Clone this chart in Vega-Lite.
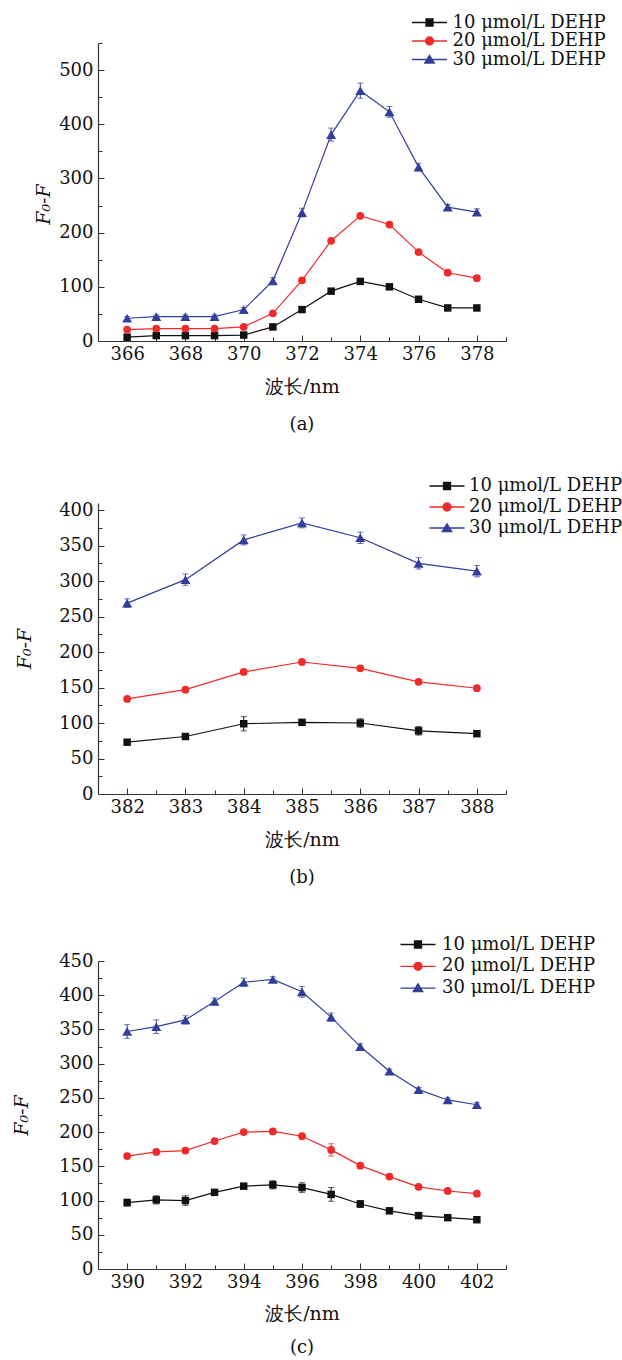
{
"$schema": "https://vega.github.io/schema/vega-lite/v6.json",
"autosize": {"type": "pad"},
"padding": {"left": 12, "top": 13, "right": 0, "bottom": 0},
"background": "white",
"config": {
  "view": {"stroke": null},
  "axis": {"grid": false, "labelFont": "DejaVu Serif", "labelFontSize": 18, "labelColor": "#111111", "titleFont": "DejaVu Serif", "titleFontSize": 19, "titleFontWeight": "normal", "titleColor": "#111111", "domainColor": "#333333", "domainWidth": 1.2, "tickColor": "#333333", "tickWidth": 1, "labelFlush": false, "labelOverlap": false}
},
"data": {"values": [
{"p":"a","s":"10 μmol/L DEHP","x":366,"y":7,"e":2},{"p":"a","s":"10 μmol/L DEHP","x":367,"y":10,"e":2},{"p":"a","s":"10 μmol/L DEHP","x":368,"y":10,"e":2},{"p":"a","s":"10 μmol/L DEHP","x":369,"y":10,"e":2},{"p":"a","s":"10 μmol/L DEHP","x":370,"y":11,"e":2},{"p":"a","s":"10 μmol/L DEHP","x":371,"y":26,"e":2},{"p":"a","s":"10 μmol/L DEHP","x":372,"y":58,"e":2},{"p":"a","s":"10 μmol/L DEHP","x":373,"y":92,"e":2},{"p":"a","s":"10 μmol/L DEHP","x":374,"y":110,"e":2},{"p":"a","s":"10 μmol/L DEHP","x":375,"y":100,"e":2},{"p":"a","s":"10 μmol/L DEHP","x":376,"y":77,"e":2},{"p":"a","s":"10 μmol/L DEHP","x":377,"y":61,"e":2},{"p":"a","s":"10 μmol/L DEHP","x":378,"y":61,"e":2},
{"p":"a","s":"20 μmol/L DEHP","x":366,"y":21,"e":2},{"p":"a","s":"20 μmol/L DEHP","x":367,"y":23,"e":2},{"p":"a","s":"20 μmol/L DEHP","x":368,"y":23,"e":2},{"p":"a","s":"20 μmol/L DEHP","x":369,"y":23,"e":2},{"p":"a","s":"20 μmol/L DEHP","x":370,"y":26,"e":2},{"p":"a","s":"20 μmol/L DEHP","x":371,"y":51,"e":2},{"p":"a","s":"20 μmol/L DEHP","x":372,"y":112,"e":3},{"p":"a","s":"20 μmol/L DEHP","x":373,"y":185,"e":3},{"p":"a","s":"20 μmol/L DEHP","x":374,"y":231,"e":3},{"p":"a","s":"20 μmol/L DEHP","x":375,"y":215,"e":3},{"p":"a","s":"20 μmol/L DEHP","x":376,"y":164,"e":3},{"p":"a","s":"20 μmol/L DEHP","x":377,"y":126,"e":3},{"p":"a","s":"20 μmol/L DEHP","x":378,"y":116,"e":3},
{"p":"a","s":"30 μmol/L DEHP","x":366,"y":42,"e":3},{"p":"a","s":"30 μmol/L DEHP","x":367,"y":45,"e":3},{"p":"a","s":"30 μmol/L DEHP","x":368,"y":45,"e":3},{"p":"a","s":"30 μmol/L DEHP","x":369,"y":45,"e":3},{"p":"a","s":"30 μmol/L DEHP","x":370,"y":58,"e":4},{"p":"a","s":"30 μmol/L DEHP","x":371,"y":111,"e":6},{"p":"a","s":"30 μmol/L DEHP","x":372,"y":237,"e":8},{"p":"a","s":"30 μmol/L DEHP","x":373,"y":381,"e":12},{"p":"a","s":"30 μmol/L DEHP","x":374,"y":462,"e":14},{"p":"a","s":"30 μmol/L DEHP","x":375,"y":423,"e":10},{"p":"a","s":"30 μmol/L DEHP","x":376,"y":321,"e":7},{"p":"a","s":"30 μmol/L DEHP","x":377,"y":247,"e":5},{"p":"a","s":"30 μmol/L DEHP","x":378,"y":238,"e":6},
{"p":"b","s":"10 μmol/L DEHP","x":382,"y":73,"e":2},{"p":"b","s":"10 μmol/L DEHP","x":383,"y":81,"e":3},{"p":"b","s":"10 μmol/L DEHP","x":384,"y":99,"e":10},{"p":"b","s":"10 μmol/L DEHP","x":385,"y":101,"e":3},{"p":"b","s":"10 μmol/L DEHP","x":386,"y":100,"e":6},{"p":"b","s":"10 μmol/L DEHP","x":387,"y":89,"e":6},{"p":"b","s":"10 μmol/L DEHP","x":388,"y":85,"e":2},
{"p":"b","s":"20 μmol/L DEHP","x":382,"y":134,"e":3},{"p":"b","s":"20 μmol/L DEHP","x":383,"y":147,"e":2},{"p":"b","s":"20 μmol/L DEHP","x":384,"y":172,"e":3},{"p":"b","s":"20 μmol/L DEHP","x":385,"y":186,"e":3},{"p":"b","s":"20 μmol/L DEHP","x":386,"y":177,"e":2},{"p":"b","s":"20 μmol/L DEHP","x":387,"y":158,"e":3},{"p":"b","s":"20 μmol/L DEHP","x":388,"y":149,"e":2},
{"p":"b","s":"30 μmol/L DEHP","x":382,"y":269,"e":6},{"p":"b","s":"30 μmol/L DEHP","x":383,"y":302,"e":8},{"p":"b","s":"30 μmol/L DEHP","x":384,"y":358,"e":7},{"p":"b","s":"30 μmol/L DEHP","x":385,"y":382,"e":7},{"p":"b","s":"30 μmol/L DEHP","x":386,"y":361,"e":8},{"p":"b","s":"30 μmol/L DEHP","x":387,"y":325,"e":8},{"p":"b","s":"30 μmol/L DEHP","x":388,"y":314,"e":8},
{"p":"c","s":"10 μmol/L DEHP","x":390,"y":97,"e":5},{"p":"c","s":"10 μmol/L DEHP","x":391,"y":101,"e":6},{"p":"c","s":"10 μmol/L DEHP","x":392,"y":100,"e":7},{"p":"c","s":"10 μmol/L DEHP","x":393,"y":112,"e":3},{"p":"c","s":"10 μmol/L DEHP","x":394,"y":121,"e":3},{"p":"c","s":"10 μmol/L DEHP","x":395,"y":123,"e":6},{"p":"c","s":"10 μmol/L DEHP","x":396,"y":119,"e":7},{"p":"c","s":"10 μmol/L DEHP","x":397,"y":109,"e":10},{"p":"c","s":"10 μmol/L DEHP","x":398,"y":95,"e":5},{"p":"c","s":"10 μmol/L DEHP","x":399,"y":85,"e":3},{"p":"c","s":"10 μmol/L DEHP","x":400,"y":78,"e":3},{"p":"c","s":"10 μmol/L DEHP","x":401,"y":75,"e":3},{"p":"c","s":"10 μmol/L DEHP","x":402,"y":72,"e":3},
{"p":"c","s":"20 μmol/L DEHP","x":390,"y":165,"e":3},{"p":"c","s":"20 μmol/L DEHP","x":391,"y":171,"e":3},{"p":"c","s":"20 μmol/L DEHP","x":392,"y":173,"e":3},{"p":"c","s":"20 μmol/L DEHP","x":393,"y":187,"e":3},{"p":"c","s":"20 μmol/L DEHP","x":394,"y":200,"e":3},{"p":"c","s":"20 μmol/L DEHP","x":395,"y":201,"e":3},{"p":"c","s":"20 μmol/L DEHP","x":396,"y":194,"e":3},{"p":"c","s":"20 μmol/L DEHP","x":397,"y":174,"e":9},{"p":"c","s":"20 μmol/L DEHP","x":398,"y":151,"e":3},{"p":"c","s":"20 μmol/L DEHP","x":399,"y":135,"e":3},{"p":"c","s":"20 μmol/L DEHP","x":400,"y":120,"e":3},{"p":"c","s":"20 μmol/L DEHP","x":401,"y":114,"e":3},{"p":"c","s":"20 μmol/L DEHP","x":402,"y":110,"e":3},
{"p":"c","s":"30 μmol/L DEHP","x":390,"y":347,"e":10},{"p":"c","s":"30 μmol/L DEHP","x":391,"y":354,"e":10},{"p":"c","s":"30 μmol/L DEHP","x":392,"y":364,"e":6},{"p":"c","s":"30 μmol/L DEHP","x":393,"y":391,"e":5},{"p":"c","s":"30 μmol/L DEHP","x":394,"y":419,"e":6},{"p":"c","s":"30 μmol/L DEHP","x":395,"y":423,"e":4},{"p":"c","s":"30 μmol/L DEHP","x":396,"y":405,"e":8},{"p":"c","s":"30 μmol/L DEHP","x":397,"y":368,"e":6},{"p":"c","s":"30 μmol/L DEHP","x":398,"y":325,"e":4},{"p":"c","s":"30 μmol/L DEHP","x":399,"y":289,"e":3},{"p":"c","s":"30 μmol/L DEHP","x":400,"y":262,"e":3},{"p":"c","s":"30 μmol/L DEHP","x":401,"y":247,"e":3},{"p":"c","s":"30 μmol/L DEHP","x":402,"y":240,"e":3}
]},
"bounds": "flush",
"spacing": 162,
"resolve": {"scale": {"color": "independent"}, "legend": {"color": "independent"}},
"vconcat": [
{
  "width": 408, "height": 298,
  "transform": [{"filter": "datum.p === 'a'"}],
  "title": {"text": "(a)", "orient": "bottom", "anchor": "middle", "frame": "group", "font": "DejaVu Serif", "fontSize": 18, "fontWeight": "normal", "color": "#111111", "offset": 20},
  "resolve": {"axis": {"x": "independent", "y": "independent"}},
  "layer": [
    {"mark": {"type": "line", "strokeWidth": 1.2},
     "encoding": {
       "x": {"field": "x", "type": "quantitative", "scale": {"domain": [365, 379], "nice": false, "zero": false}, "axis": {"orient": "bottom", "title": "波长/nm", "values": [366,368,370,372,374,376,378], "ticks": false, "labelPadding": 4, "titlePadding": 14}},
       "y": {"field": "y", "type": "quantitative", "scale": {"domain": [0, 550], "nice": false}, "axis": {"orient": "left", "title": "F₀-F", "titleFontStyle": "italic", "values": [0,100,200,300,400,500], "ticks": false, "labelPadding": 5, "titlePadding": 5, "titleY": 161}},
       "color": {"field": "s", "type": "nominal", "scale": {"domain": ["10 μmol/L DEHP","20 μmol/L DEHP","30 μmol/L DEHP"], "range": ["#111111","#f02a2a","#323f9a"]},
         "legend": {"orient": "none", "legendX": 322.5, "legendY": -29.5, "title": null, "direction": "vertical", "symbolSize": 100, "symbolStrokeWidth": 1.3, "labelFont": "DejaVu Serif", "labelFontSize": 18, "labelColor": "#111111", "labelOffset": 14, "rowPadding": 0.5, "labelLimit": 400, "padding": 0,
           "encode": {"symbols": {"update": {
             "shape": {"signal": "datum.value === '10 μmol/L DEHP' ? 'M-3.5,0H3.5M-0.7,-0.7H0.7V0.7H-0.7Z' : datum.value === '20 μmol/L DEHP' ? 'M-3.5,0H3.5M0.8,0A0.8,0.8,0,1,1,-0.8,0A0.8,0.8,0,1,1,0.8,0Z' : 'M-3.5,0H3.5M0,-0.85L0.95,0.7H-0.95Z'"},
             "fill": {"signal": "datum.value === '10 μmol/L DEHP' ? '#111111' : datum.value === '20 μmol/L DEHP' ? '#f02a2a' : '#323f9a'"},
             "stroke": {"signal": "datum.value === '10 μmol/L DEHP' ? '#111111' : datum.value === '20 μmol/L DEHP' ? '#f02a2a' : '#323f9a'"},
             "fillOpacity": {"value": 1}, "opacity": {"value": 1}}}}}}}},
    {"mark": {"type": "errorbar", "ticks": {"size": 6}, "thickness": 1},
     "encoding": {
       "x": {"field": "x", "type": "quantitative", "axis": null},
       "y": {"field": "y", "type": "quantitative", "axis": null},
       "yError": {"field": "e"},
       "color": {"field": "s", "type": "nominal", "legend": null}}},
    {"transform": [{"filter": "datum.s === '10 μmol/L DEHP'"}],
     "mark": {"type": "point", "shape": "square", "filled": true, "size": 56, "color": "#111111", "opacity": 1},
     "encoding": {
       "x": {"field": "x", "type": "quantitative", "axis": {"orient": "bottom", "values": [366,368,370,372,374,376,378], "labels": false, "domain": false, "title": null, "tickSize": -6}},
       "y": {"field": "y", "type": "quantitative", "axis": {"orient": "left", "values": [100,200,300,400,500], "labels": false, "domain": false, "title": null, "tickSize": -6}}}},
    {"transform": [{"filter": "datum.s === '20 μmol/L DEHP'"}],
     "mark": {"type": "point", "shape": "circle", "filled": true, "size": 60, "color": "#f02a2a", "opacity": 1},
     "encoding": {
       "x": {"field": "x", "type": "quantitative", "axis": {"orient": "bottom", "values": [367,369,371,373,375,377,379], "labels": false, "domain": false, "title": null, "tickSize": -4}},
       "y": {"field": "y", "type": "quantitative", "axis": {"orient": "left", "values": [50,150,250,350,450,550], "labels": false, "domain": false, "title": null, "tickSize": -4}}}},
    {"transform": [{"filter": "datum.s === '30 μmol/L DEHP'"}],
     "mark": {"type": "point", "shape": "triangle-up", "filled": true, "size": 100, "color": "#323f9a", "opacity": 1},
     "encoding": {
       "x": {"field": "x", "type": "quantitative", "axis": null},
       "y": {"field": "y", "type": "quantitative", "axis": null}}}
  ]
},
{
  "bounds": "flush",
  "spacing": 167,
  "resolve": {"scale": {"color": "independent"}, "legend": {"color": "independent"}},
  "vconcat": [
  {
    "width": 408, "height": 291,
    "transform": [{"filter": "datum.p === 'b'"}],
    "title": {"text": "(b)", "orient": "bottom", "anchor": "middle", "frame": "group", "font": "DejaVu Serif", "fontSize": 18, "fontWeight": "normal", "color": "#111111", "offset": 20},
    "resolve": {"axis": {"x": "independent", "y": "independent"}},
    "layer": [
      {"mark": {"type": "line", "strokeWidth": 1.2},
       "encoding": {
         "x": {"field": "x", "type": "quantitative", "scale": {"domain": [381.5, 388.5], "nice": false, "zero": false}, "axis": {"orient": "bottom", "title": "波长/nm", "values": [382,383,384,385,386,387,388], "ticks": false, "labelPadding": 4, "titlePadding": 14}},
         "y": {"field": "y", "type": "quantitative", "scale": {"domain": [0, 410], "nice": false}, "axis": {"orient": "left", "title": "F₀-F", "titleFontStyle": "italic", "values": [0,50,100,150,200,250,300,350,400], "ticks": false, "labelPadding": 5, "titlePadding": 24}},
         "color": {"field": "s", "type": "nominal", "scale": {"domain": ["10 μmol/L DEHP","20 μmol/L DEHP","30 μmol/L DEHP"], "range": ["#111111","#f02a2a","#323f9a"]},
           "legend": {"orient": "none", "legendX": 340, "legendY": -26, "title": null, "direction": "vertical", "symbolSize": 100, "symbolStrokeWidth": 1.3, "labelFont": "DejaVu Serif", "labelFontSize": 18, "labelColor": "#111111", "labelOffset": 13, "rowPadding": 3, "labelLimit": 400, "padding": 0,
             "encode": {"symbols": {"update": {
               "shape": {"signal": "datum.value === '10 μmol/L DEHP' ? 'M-3.5,0H3.5M-0.7,-0.7H0.7V0.7H-0.7Z' : datum.value === '20 μmol/L DEHP' ? 'M-3.5,0H3.5M0.8,0A0.8,0.8,0,1,1,-0.8,0A0.8,0.8,0,1,1,0.8,0Z' : 'M-3.5,0H3.5M0,-0.85L0.95,0.7H-0.95Z'"},
               "fill": {"signal": "datum.value === '10 μmol/L DEHP' ? '#111111' : datum.value === '20 μmol/L DEHP' ? '#f02a2a' : '#323f9a'"},
               "stroke": {"signal": "datum.value === '10 μmol/L DEHP' ? '#111111' : datum.value === '20 μmol/L DEHP' ? '#f02a2a' : '#323f9a'"},
               "fillOpacity": {"value": 1}, "opacity": {"value": 1}}}}}}}},
      {"mark": {"type": "errorbar", "ticks": {"size": 6}, "thickness": 1},
       "encoding": {
         "x": {"field": "x", "type": "quantitative", "axis": null},
         "y": {"field": "y", "type": "quantitative", "axis": null},
         "yError": {"field": "e"},
         "color": {"field": "s", "type": "nominal", "legend": null}}},
      {"transform": [{"filter": "datum.s === '10 μmol/L DEHP'"}],
       "mark": {"type": "point", "shape": "square", "filled": true, "size": 56, "color": "#111111", "opacity": 1},
       "encoding": {
         "x": {"field": "x", "type": "quantitative", "axis": {"orient": "bottom", "values": [382,383,384,385,386,387,388], "labels": false, "domain": false, "title": null, "tickSize": -6}},
         "y": {"field": "y", "type": "quantitative", "axis": {"orient": "left", "values": [50,100,150,200,250,300,350,400], "labels": false, "domain": false, "title": null, "tickSize": -6}}}},
      {"transform": [{"filter": "datum.s === '20 μmol/L DEHP'"}],
       "mark": {"type": "point", "shape": "circle", "filled": true, "size": 60, "color": "#f02a2a", "opacity": 1},
       "encoding": {
         "x": {"field": "x", "type": "quantitative", "axis": {"orient": "bottom", "values": [382.5,383.5,384.5,385.5,386.5,387.5,388.5], "labels": false, "domain": false, "title": null, "tickSize": -4}},
         "y": {"field": "y", "type": "quantitative", "axis": {"orient": "left", "values": [25,75,125,175,225,275,325,375], "labels": false, "domain": false, "title": null, "tickSize": -4}}}},
      {"transform": [{"filter": "datum.s === '30 μmol/L DEHP'"}],
       "mark": {"type": "point", "shape": "triangle-up", "filled": true, "size": 100, "color": "#323f9a", "opacity": 1},
       "encoding": {
         "x": {"field": "x", "type": "quantitative", "axis": null},
         "y": {"field": "y", "type": "quantitative", "axis": null}}}
    ]
  },
  {
    "width": 408, "height": 308,
    "transform": [{"filter": "datum.p === 'c'"}],
    "title": {"text": "(c)", "orient": "bottom", "anchor": "middle", "frame": "group", "font": "DejaVu Serif", "fontSize": 18, "fontWeight": "normal", "color": "#111111", "offset": 16},
    "resolve": {"axis": {"x": "independent", "y": "independent"}},
    "layer": [
      {"mark": {"type": "line", "strokeWidth": 1.2},
       "encoding": {
         "x": {"field": "x", "type": "quantitative", "scale": {"domain": [389, 403], "nice": false, "zero": false}, "axis": {"orient": "bottom", "title": "波长/nm", "values": [390,392,394,396,398,400,402], "ticks": false, "labelPadding": 4, "titlePadding": 13}},
         "y": {"field": "y", "type": "quantitative", "scale": {"domain": [0, 450], "nice": false}, "axis": {"orient": "left", "title": "F₀-F", "titleFontStyle": "italic", "values": [0,50,100,150,200,250,300,350,400,450], "ticks": false, "labelPadding": 5, "titlePadding": 27}},
         "color": {"field": "s", "type": "nominal", "scale": {"domain": ["10 μmol/L DEHP","20 μmol/L DEHP","30 μmol/L DEHP"], "range": ["#111111","#f02a2a","#323f9a"]},
           "legend": {"orient": "none", "legendX": 311, "legendY": -25.5, "title": null, "direction": "vertical", "symbolSize": 100, "symbolStrokeWidth": 1.3, "labelFont": "DejaVu Serif", "labelFontSize": 18, "labelColor": "#111111", "labelOffset": 15, "rowPadding": 3.8, "labelLimit": 400, "padding": 0,
             "encode": {"symbols": {"update": {
               "shape": {"signal": "datum.value === '10 μmol/L DEHP' ? 'M-3.5,0H3.5M-0.7,-0.7H0.7V0.7H-0.7Z' : datum.value === '20 μmol/L DEHP' ? 'M-3.5,0H3.5M0.8,0A0.8,0.8,0,1,1,-0.8,0A0.8,0.8,0,1,1,0.8,0Z' : 'M-3.5,0H3.5M0,-0.85L0.95,0.7H-0.95Z'"},
               "fill": {"signal": "datum.value === '10 μmol/L DEHP' ? '#111111' : datum.value === '20 μmol/L DEHP' ? '#f02a2a' : '#323f9a'"},
               "stroke": {"signal": "datum.value === '10 μmol/L DEHP' ? '#111111' : datum.value === '20 μmol/L DEHP' ? '#f02a2a' : '#323f9a'"},
               "fillOpacity": {"value": 1}, "opacity": {"value": 1}}}}}}}},
      {"mark": {"type": "errorbar", "ticks": {"size": 6}, "thickness": 1},
       "encoding": {
         "x": {"field": "x", "type": "quantitative", "axis": null},
         "y": {"field": "y", "type": "quantitative", "axis": null},
         "yError": {"field": "e"},
         "color": {"field": "s", "type": "nominal", "legend": null}}},
      {"transform": [{"filter": "datum.s === '10 μmol/L DEHP'"}],
       "mark": {"type": "point", "shape": "square", "filled": true, "size": 56, "color": "#111111", "opacity": 1},
       "encoding": {
         "x": {"field": "x", "type": "quantitative", "axis": {"orient": "bottom", "values": [390,392,394,396,398,400,402], "labels": false, "domain": false, "title": null, "tickSize": -6}},
         "y": {"field": "y", "type": "quantitative", "axis": {"orient": "left", "values": [50,100,150,200,250,300,350,400,450], "labels": false, "domain": false, "title": null, "tickSize": -6}}}},
      {"transform": [{"filter": "datum.s === '20 μmol/L DEHP'"}],
       "mark": {"type": "point", "shape": "circle", "filled": true, "size": 60, "color": "#f02a2a", "opacity": 1},
       "encoding": {
         "x": {"field": "x", "type": "quantitative", "axis": {"orient": "bottom", "values": [391,393,395,397,399,401,403], "labels": false, "domain": false, "title": null, "tickSize": -4}},
         "y": {"field": "y", "type": "quantitative", "axis": {"orient": "left", "values": [25,75,125,175,225,275,325,375,425], "labels": false, "domain": false, "title": null, "tickSize": -4}}}},
      {"transform": [{"filter": "datum.s === '30 μmol/L DEHP'"}],
       "mark": {"type": "point", "shape": "triangle-up", "filled": true, "size": 100, "color": "#323f9a", "opacity": 1},
       "encoding": {
         "x": {"field": "x", "type": "quantitative", "axis": null},
         "y": {"field": "y", "type": "quantitative", "axis": null}}}
    ]
  }
  ]
}
]
}
